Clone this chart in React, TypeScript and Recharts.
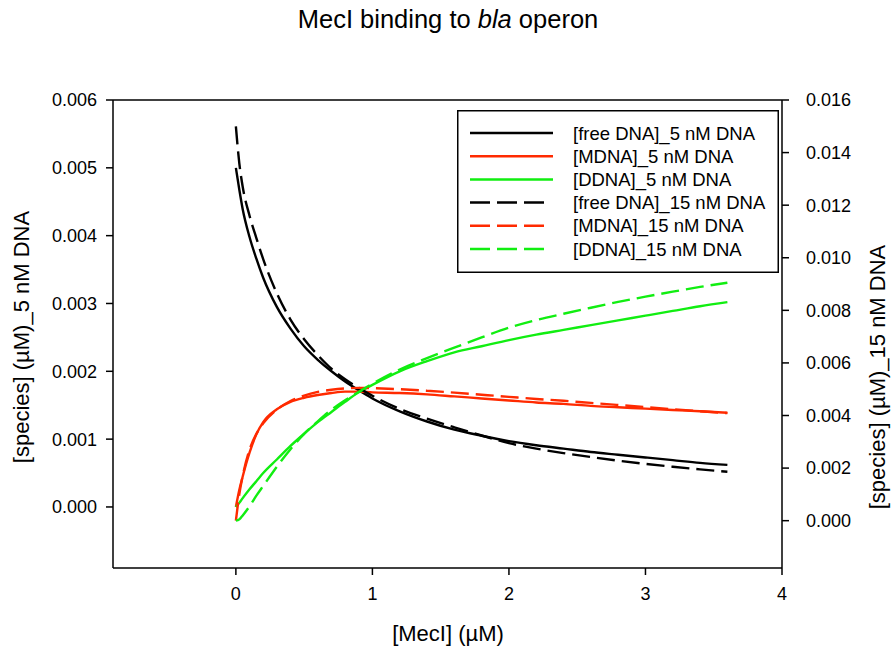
import React from "react";
import { LineChart, Line, XAxis, YAxis, ReferenceLine } from "recharts";

const FONT = "'Liberation Sans', Arial, sans-serif";

// [MecI] (µM)
const mecI = [0, 0.025, 0.05, 0.1, 0.15, 0.2, 0.3, 0.4, 0.5, 0.6, 0.7, 0.8, 0.9, 1.0, 1.2, 1.4, 1.6, 1.8, 2.0, 2.2, 2.4, 2.6, 2.8, 3.0, 3.2, 3.4, 3.6];

// 5 nM DNA, left axis (µM)
const free5 = [0.005, 0.00468, 0.00439, 0.00398, 0.00366, 0.00338, 0.00295, 0.00263, 0.00237, 0.00217, 0.002, 0.00185, 0.00172, 0.0016, 0.00141, 0.00126, 0.00114, 0.00105, 0.00097, 0.00091, 0.00086, 0.00081, 0.00077, 0.00073, 0.00069, 0.00065, 0.00062];
const mdna5 = [0, 0.00025, 0.00045, 0.0008, 0.00107, 0.00125, 0.00144, 0.00155, 0.00161, 0.00165, 0.00168, 0.0017, 0.0017, 0.00169, 0.00168, 0.00166, 0.00163, 0.0016, 0.00157, 0.00154, 0.00152, 0.00149, 0.00147, 0.00145, 0.00143, 0.00141, 0.00139];
const ddna5 = [0, 0.00006, 0.00013, 0.00026, 0.00038, 0.0005, 0.0007, 0.0009, 0.00108, 0.00125, 0.0014, 0.00155, 0.00169, 0.0018, 0.002, 0.00215, 0.00228, 0.00237, 0.00246, 0.00254, 0.00261, 0.00268, 0.00275, 0.00282, 0.00289, 0.00296, 0.00302];

// 15 nM DNA, right axis (µM)
const free15 = [0.015, 0.0136, 0.0127, 0.0116, 0.01075, 0.00995, 0.00865, 0.00765, 0.0069, 0.0063, 0.00578, 0.00538, 0.00505, 0.00475, 0.00425, 0.00388, 0.00355, 0.00324, 0.00295, 0.00274, 0.00257, 0.00242, 0.00228, 0.00216, 0.00205, 0.00195, 0.00186];
const mdna15 = [0, 0.001, 0.0017, 0.0027, 0.0033, 0.0037, 0.00422, 0.00455, 0.00476, 0.0049, 0.00498, 0.00503, 0.00505, 0.00504, 0.005, 0.00494, 0.00487, 0.00479, 0.00471, 0.00463, 0.00456, 0.00448, 0.0044, 0.00432, 0.00424, 0.00416, 0.00409];
const ddna15 = [0, 0.00005, 0.0002, 0.00055, 0.00095, 0.00132, 0.00205, 0.00272, 0.0033, 0.00378, 0.00422, 0.00458, 0.0049, 0.00521, 0.00575, 0.00618, 0.00658, 0.00697, 0.00734, 0.00763, 0.00787, 0.0081, 0.00832, 0.00852, 0.00871, 0.00889, 0.00905];

const xTicks = [0, 1, 2, 3, 4];
const leftTicks = [0, 0.001, 0.002, 0.003, 0.004, 0.005, 0.006];
const rightTicks = [0, 0.002, 0.004, 0.006, 0.008, 0.01, 0.012, 0.014, 0.016];

const RED = "#ff2a00";
const GREEN = "#11ee11";

const series = [
  { key: "free5", name: "[free DNA]_5 nM DNA", color: "#000", dashed: false, axis: "left" },
  { key: "mdna5", name: "[MDNA]_5 nM DNA", color: RED, dashed: false, axis: "left" },
  { key: "ddna5", name: "[DDNA]_5 nM DNA", color: GREEN, dashed: false, axis: "left" },
  { key: "free15", name: "[free DNA]_15 nM DNA", color: "#000", dashed: true, axis: "right" },
  { key: "mdna15", name: "[MDNA]_15 nM DNA", color: RED, dashed: true, axis: "right" },
  { key: "ddna15", name: "[DDNA]_15 nM DNA", color: GREEN, dashed: true, axis: "right" },
];

const rows = mecI.map((x, i) => ({
  x,
  free5: free5[i],
  mdna5: mdna5[i],
  ddna5: ddna5[i],
  free15: free15[i],
  mdna15: mdna15[i],
  ddna15: ddna15[i],
}));

const DASH = "18 7";

function LegendBox() {
  return (
    <svg width={322} height={163} style={{ position: "absolute", left: 457, top: 110 }}>
      <rect x={0.75} y={0.75} width={320.5} height={161.5} fill="#fff" stroke="#000" strokeWidth={1.5} />
      {series.map((s, i) => {
        const y = 23 + i * 23.2;
        return (
          <g key={s.key}>
            <line x1={13} x2={s.dashed ? 88 : 96} y1={y} y2={y} stroke={s.color} strokeWidth={2.5}
                  strokeDasharray={s.dashed ? "20 7" : undefined} />
            <text x={116} y={y + 6.5} fontSize={18.5} fontFamily={FONT} fill="#000">{s.name}</text>
          </g>
        );
      })}
    </svg>
  );
}

const abs = (extra: React.CSSProperties): React.CSSProperties => ({
  position: "absolute",
  fontFamily: FONT,
  color: "#000",
  whiteSpace: "nowrap",
  lineHeight: 1,
  transform: "translate(-50%, -50%)",
  ...extra,
});

export default function App() {
  return (
    <div style={{ position: "absolute", left: 0, top: 0, width: 894, height: 655, background: "#fff" }}>
      <LineChart width={894} height={655} data={rows} margin={{ top: 100, right: 32, bottom: 27, left: 33 }}
                 style={{ fontFamily: FONT }}>
        <XAxis dataKey="x" type="number" domain={[-0.9, 4]} ticks={xTicks} allowDataOverflow
               height={60} tickSize={7} tickMargin={12} stroke="#000" strokeWidth={1.5}
               tick={{ fontSize: 18, fill: "#000", fontFamily: FONT }} />
        <YAxis yAxisId="left" orientation="left" type="number" domain={[-0.0009, 0.006]} ticks={leftTicks}
               allowDataOverflow width={80} tickSize={7} tickMargin={9} stroke="#000" strokeWidth={1.5}
               tickFormatter={(v: number) => v.toFixed(3)} tick={{ fontSize: 18, fill: "#000", fontFamily: FONT }} />
        <YAxis yAxisId="right" orientation="right" type="number" domain={[-0.0018, 0.016]} ticks={rightTicks}
               allowDataOverflow width={80} tickSize={7} tickMargin={17} stroke="#000" strokeWidth={1.5}
               tickFormatter={(v: number) => v.toFixed(3)} tick={{ fontSize: 18, fill: "#000", fontFamily: FONT }} />
        <ReferenceLine yAxisId="left" y={0.006} stroke="#000" strokeWidth={1.5} ifOverflow="visible" />
        {series.map((s) => (
          <Line key={s.key} yAxisId={s.axis} dataKey={s.key} name={s.name} type="monotone" stroke={s.color}
                strokeWidth={2.4} strokeDasharray={s.dashed ? DASH : undefined} dot={false}
                activeDot={false} isAnimationActive={false} />
        ))}
      </LineChart>
      <LegendBox />
      <div style={abs({ left: 448, top: 20, fontSize: 25.5 })}>
        MecI binding to <i>bla</i> operon
      </div>
      <div style={abs({ left: 448, top: 634, fontSize: 22 })}>[MecI] (µM)</div>
      <div style={abs({ left: 22, top: 337, fontSize: 22, transform: "translate(-50%, -50%) rotate(-90deg)" })}>
        [species] (µM)_5 nM DNA
      </div>
      <div style={abs({ left: 878, top: 377, fontSize: 22, transform: "translate(-50%, -50%) rotate(-90deg)" })}>
        [species] (µM)_15 nM DNA
      </div>
    </div>
  );
}
